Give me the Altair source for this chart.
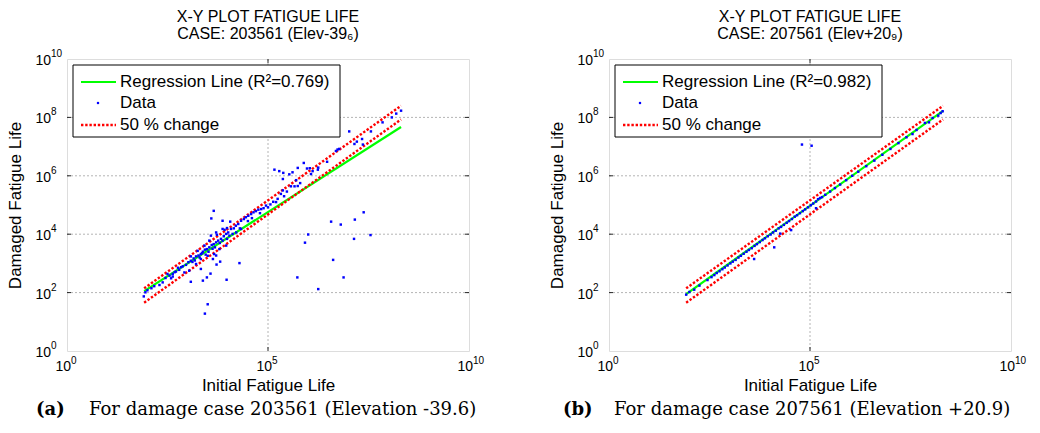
import altair as alt
import pandas as pd

# ---------------- data (log10 of fatigue life) ----------------
a_logx = [1.91, 1.95, 2.0, 2.1, 2.17, 2.30, 2.38, 2.45, 2.50, 2.55, 2.59, 2.63, 2.63, 2.68, 2.71, 2.76, 2.79, 2.84,
          2.88, 2.92, 2.96, 3.02, 3.04, 3.08, 3.08, 3.12, 3.15, 3.18, 3.21, 3.21, 3.25, 3.27, 3.30, 3.33, 3.33, 3.36,
          3.38, 3.42, 3.43, 3.45, 3.48, 3.50, 3.52, 3.54, 3.54, 3.58, 3.60, 3.62, 3.65, 3.66, 3.68, 3.71, 3.71, 3.73,
          3.76, 3.79, 3.80, 3.83, 3.87, 3.87, 3.87, 3.90, 3.92, 3.96, 3.96, 3.98, 3.98, 4.01, 4.04, 4.06, 4.08, 4.12,
          4.15, 4.20, 4.21, 4.26, 4.30, 4.33, 4.33, 4.40, 4.45, 4.50, 4.51, 4.58, 4.60, 4.64, 4.70, 4.76, 4.80, 4.83,
          4.89, 4.95, 5.00, 5.06, 5.13, 5.20, 5.24, 5.32, 5.37, 5.40, 5.47, 5.57, 5.66, 5.70, 5.74, 5.80,
          3.65, 3.59, 3.50, 3.43, 3.08, 3.38, 3.48, 3.57, 3.97, 4.29, 3.72, 3.81, 3.63, 3.33, 3.71,
          6.57, 6.81, 6.00, 5.92, 6.62, 5.73, 6.88, 6.25, 7.16, 7.14, 7.38, 7.55,
          5.16, 5.28, 5.38, 5.37, 5.53, 5.61, 5.74, 5.89, 5.97, 6.04, 6.11, 6.07, 6.24, 6.25, 6.47, 6.69, 6.77, 6.73,
          7.02, 7.15, 7.21, 7.34, 7.36, 7.56, 7.85, 8.08, 8.19, 8.31]
a_logy = [1.87, 2.01, 2.08, 2.15, 2.22, 2.26, 2.35, 2.50, 2.64, 2.58, 2.49, 2.64, 2.55, 2.70, 2.72, 2.85, 2.78, 2.87,
          2.90, 2.69, 2.95, 3.04, 2.75, 3.09, 3.24, 3.05, 3.17, 3.10, 3.24, 2.98, 3.43, 3.27, 3.20, 3.32, 3.15, 3.35,
          3.40, 3.61, 3.47, 3.30, 3.49, 3.26, 3.40, 3.55, 3.78, 3.95, 3.63, 3.50, 3.66, 3.32, 3.55, 3.72, 4.06, 3.98,
          3.78, 3.49, 3.70, 3.84, 4.18, 3.78, 4.46, 3.93, 4.15, 4.01, 3.61, 4.21, 3.84, 4.06, 3.95, 4.43, 4.18, 4.01,
          4.20, 4.29, 4.06, 4.35, 4.20, 4.46, 4.18, 4.52, 4.58, 4.45, 4.63, 4.69, 4.55, 4.75, 4.79, 4.84, 4.72, 4.86,
          4.89, 4.98, 4.92, 5.02, 5.11, 5.10, 5.21, 5.38, 5.50, 5.30, 5.46, 5.64, 5.64, 5.85, 5.65, 5.75,
          4.80, 4.54, 1.60, 1.28, 2.37, 2.41, 2.52, 2.65, 2.44, 3.01, 2.96, 3.06, 3.15, 2.81, 3.27,
          4.43, 4.33, 3.99, 3.71, 3.12, 2.52, 2.52, 2.12, 4.50, 3.84, 4.75, 3.97,
          6.21, 6.16, 6.10, 5.89, 6.05, 6.12, 6.27, 6.44, 6.25, 6.26, 6.16, 6.06, 6.21, 6.28, 6.48, 6.85, 6.92, 6.90,
          7.52, 7.09, 7.17, 7.26, 7.07, 7.52, 7.83, 8.00, 8.13, 8.23]

b_logx = [1.92, 2.00, 2.12, 2.25, 2.45, 2.55, 2.62, 2.68, 2.75, 2.82, 2.88, 2.95, 3.02, 3.08, 3.15, 3.22, 3.28, 3.35,
          3.42, 3.48, 3.55, 3.62, 3.68, 3.75, 3.82, 3.88, 3.95, 4.02, 4.08, 4.15, 4.22, 4.28, 4.35, 4.42, 4.48, 4.55,
          4.62, 4.68, 4.75, 4.82, 4.88, 4.95, 5.02, 5.08, 5.15, 5.20, 5.25, 5.30, 5.38, 5.50, 5.62, 5.75, 5.90, 6.05,
          6.20, 6.40, 6.60, 6.80, 7.00, 7.20, 7.40, 7.55, 7.65, 7.86, 7.96, 8.05, 8.19, 8.25, 8.30,
          4.80, 5.04, 3.61, 4.11, 4.53, 5.15, 4.26]
b_logy = [1.93, 2.02, 2.10, 2.24, 2.43, 2.53, 2.60, 2.67, 2.73, 2.80, 2.86, 2.93, 3.00, 3.06, 3.12, 3.20, 3.26, 3.33,
          3.40, 3.46, 3.52, 3.60, 3.66, 3.73, 3.80, 3.86, 3.93, 3.99, 4.06, 4.12, 4.20, 4.25, 4.32, 4.39, 4.45, 4.52,
          4.60, 4.65, 4.72, 4.79, 4.85, 4.92, 4.99, 5.05, 5.12, 5.20, 5.24, 5.27, 5.35, 5.46, 5.58, 5.70, 5.85, 6.00,
          6.14, 6.33, 6.52, 6.72, 6.92, 7.12, 7.32, 7.43, 7.57, 7.81, 7.83, 7.98, 8.06, 8.15, 8.21,
          7.07, 7.03, 3.15, 3.55, 4.14, 4.89, 4.02]

line_x = [83, 2.04e8]
a_reg_y = [112, 4.7e7]
b_reg_y = [89, 1.66e8]
upper_y = [140, 2.5e8]
lower_y = [45, 8.5e7]

x_ticks = [1, 1e5, 1e10]
x_tick_exp = ["0", "5", "10"]
y_ticks = [1, 1e2, 1e4, 1e6, 1e8, 1e10]
y_tick_exp = ["0", "2", "4", "6", "8", "10"]
x_grid = [1e5]
y_grid = [1e2, 1e4, 1e6, 1e8]

SANS = "Liberation Sans"
SERIF = "DejaVu Serif"
W, H = 402, 292


def axis(tpad):
    return alt.Axis(labels=False, grid=False, domain=False, ticks=False,
                    titleFont=SANS, titleFontSize=17, titleFontWeight="normal",
                    titleColor="black", titlePadding=tpad)


def panel(lx, ly, reg_y, r2, case_text, tag, cap, tag_x, cap_x):
    xs = alt.Scale(type="log", domain=[1, 1e10], nice=False)
    ys = alt.Scale(type="log", domain=[1, 1e10], nice=False)
    X = alt.X("x:Q", scale=xs, axis=axis(26), title="Initial Fatigue Life")
    Y = alt.Y("y:Q", scale=ys, axis=axis(43), title="Damaged Fatigue Life")

    pts = pd.DataFrame({"x": [10 ** v for v in lx], "y": [10 ** v for v in ly]})
    reg = pd.DataFrame({"x": line_x, "y": reg_y})
    band = pd.DataFrame({"x": line_x + line_x, "y": upper_y + lower_y,
                         "g": ["up", "up", "low", "low"]})
    one = pd.DataFrame({"k": [0]})
    gx = pd.DataFrame({"x": x_grid})
    gy = pd.DataFrame({"y": y_grid})
    tx = pd.DataFrame({"x": x_ticks[1:-1]})
    ty = pd.DataFrame({"y": y_ticks[1:-1]})
    lab_x = pd.DataFrame({"x": x_ticks, "e": x_tick_exp})
    lab_y = pd.DataFrame({"y": y_ticks, "e": y_tick_exp})

    grid_style = dict(color="#b4b4b4", strokeWidth=1, strokeDash=[2, 2])
    vgrid = alt.Chart(gx).mark_rule(**grid_style).encode(x=X, y=alt.value(0), y2=alt.value(H))
    hgrid = alt.Chart(gy).mark_rule(**grid_style).encode(y=Y, x=alt.value(0), x2=alt.value(W))
    tick_style = dict(color="#262626", strokeWidth=1)
    tk_b = alt.Chart(tx).mark_rule(**tick_style).encode(x=X, y=alt.value(H), y2=alt.value(H - 4))
    tk_t = alt.Chart(tx).mark_rule(**tick_style).encode(x=X, y=alt.value(0), y2=alt.value(4))
    tk_l = alt.Chart(ty).mark_rule(**tick_style).encode(y=Y, x=alt.value(0), x2=alt.value(4))
    tk_r = alt.Chart(ty).mark_rule(**tick_style).encode(y=Y, x=alt.value(W), x2=alt.value(W - 4))

    # tick labels "10" with a superscript exponent
    xl_base = alt.Chart(lab_x).mark_text(align="right", baseline="middle", font=SANS, fontSize=14,
                                         color="black", dx=4).encode(
        x=X, y=alt.value(H + 16), text=alt.value("10"))
    xl_exp = alt.Chart(lab_x).mark_text(align="left", baseline="middle", font=SANS, fontSize=10,
                                        color="black", dx=4).encode(
        x=X, y=alt.value(H + 10), text="e:N")
    yl_base = alt.Chart(lab_y).mark_text(align="right", baseline="middle", font=SANS, fontSize=14,
                                         color="black", dy=2).encode(
        y=Y, x=alt.value(-16), text=alt.value("10"))
    yl_exp = alt.Chart(lab_y).mark_text(align="left", baseline="middle", font=SANS, fontSize=10,
                                        color="black", dy=-5).encode(
        y=Y, x=alt.value(-16), text="e:N")

    green = alt.Chart(reg).mark_line(color="#00ff00", strokeWidth=2.2).encode(x=X, y=Y)
    red = alt.Chart(band).mark_line(color="#ff0000", strokeWidth=2.4, strokeDash=[2.4, 1.8]).encode(
        x=X, y=Y, detail="g:N")
    dots = alt.Chart(pts).mark_square(color="#0000ff", size=6, opacity=1).encode(x=X, y=Y)

    box = alt.Chart(one).mark_rect(fill="white", stroke="black", strokeWidth=1).encode(
        x=alt.value(6), x2=alt.value(273), y=alt.value(6), y2=alt.value(78))
    lg_green = alt.Chart(one).mark_rule(color="#00ff00", strokeWidth=2.2).encode(
        x=alt.value(14), x2=alt.value(49), y=alt.value(23))
    lg_red = alt.Chart(one).mark_rule(color="#ff0000", strokeWidth=2.4, strokeDash=[2.4, 1.8]).encode(
        x=alt.value(14), x2=alt.value(49), y=alt.value(66))
    lg_dot = alt.Chart(one).mark_square(color="#0000ff", size=5, opacity=1).encode(
        x=alt.value(31), y=alt.value(44))
    labels = [f"Regression Line (R²={r2})", "Data", "50 % change"]
    rows = [23, 44, 66]
    lg_texts = [alt.Chart(one).mark_text(align="left", baseline="middle", font=SANS, fontSize=17,
                                         color="black").encode(
        x=alt.value(53), y=alt.value(yy), text=alt.value(t)) for t, yy in zip(labels, rows)]

    cap_tag = alt.Chart(one).mark_text(align="left", baseline="middle", font=SERIF, fontSize=18,
                                       fontWeight="bold", color="black").encode(
        x=alt.value(tag_x), y=alt.value(351), text=alt.value(tag))
    cap_txt = alt.Chart(one).mark_text(align="left", baseline="middle", font=SERIF, fontSize=18,
                                       color="black").encode(
        x=alt.value(cap_x), y=alt.value(351), text=alt.value(cap))

    return alt.layer(vgrid, hgrid, tk_b, tk_t, tk_l, tk_r, xl_base, xl_exp, yl_base, yl_exp,
                     green, red, dots, box, lg_green, lg_red,
                     lg_dot, *lg_texts, cap_tag, cap_txt).properties(
        width=W, height=H,
        title=alt.TitleParams(["X-Y PLOT FATIGUE LIFE", case_text], font=SANS, fontSize=16,
                              fontWeight="normal", color="black", anchor="middle", offset=7,
                              lineHeight=17))


left = panel(a_logx, a_logy, a_reg_y, "0.769", "CASE: 203561 (Elev-39₆)", "(a)",
             "For damage case 203561 (Elevation -39.6)", -31, 22)
right = panel(b_logx, b_logy, b_reg_y, "0.982", "CASE: 207561 (Elev+20₉)", "(b)",
              "For damage case 207561 (Elevation +20.9)", -46, 5)

chart = alt.hconcat(left, right, spacing=140, bounds="flush").properties(
    padding={"left": 5, "top": 8, "right": 0, "bottom": 0}
).configure_view(stroke="#262626", strokeWidth=1.3).configure(background="white")

chart.save("out.html", embed_options={"renderer": "svg", "actions": False})
